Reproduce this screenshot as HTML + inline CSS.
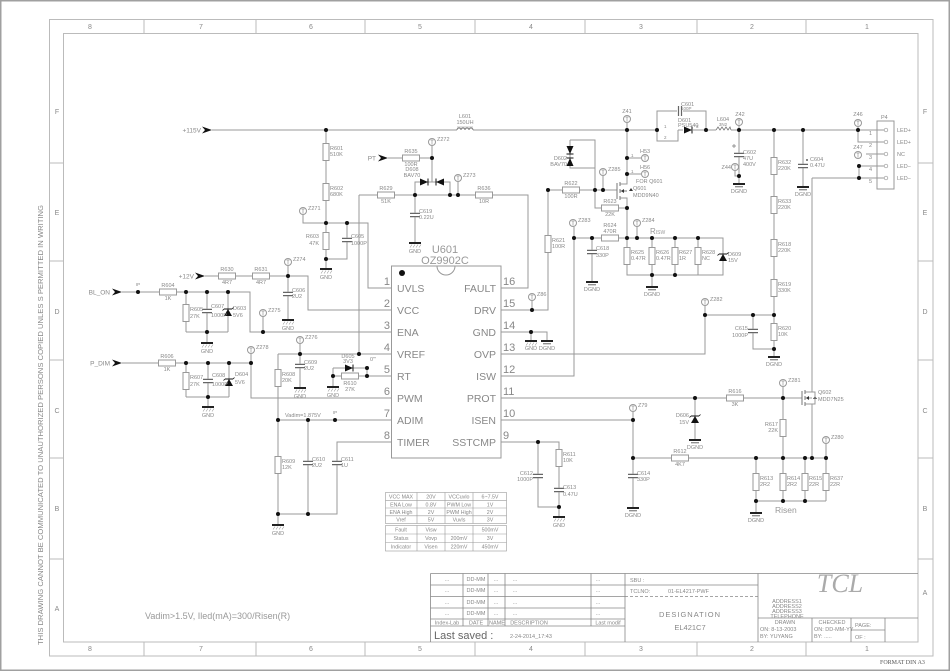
<!DOCTYPE html>
<html><head><meta charset="utf-8"><style>
html,body{margin:0;padding:0;background:#fff}
svg{display:block}
text{font-family:"Liberation Sans",sans-serif;fill:#888}
.s{font-size:5.5px}
.sm{font-size:4.5px}
.p{font-size:10.5px;fill:#8a8a8a}
.n{font-size:11px;fill:#999}
.r{font-size:7px;fill:#999}
.t{font-family:"Liberation Serif",serif;font-size:5.5px;fill:#555}
</style></head><body>
<svg width="950" height="672" viewBox="0 0 950 672" xmlns="http://www.w3.org/2000/svg">
<defs>
<g id="rv"><rect x="-3" y="-8.5" width="6" height="17" fill="#fff" stroke="#999"/></g>
<g id="rh"><rect x="-8.5" y="-3" width="17" height="6" fill="#fff" stroke="#999"/></g>
<g id="cv"><rect x="-5" y="-2.2" width="10" height="4.4" fill="#fff"/><path d="M-5,-1.6H5M-5,1.6H5" stroke="#666" stroke-width="1.2"/></g>
<g id="gnd"><path d="M-6,0H6" stroke="#222" stroke-width="2"/><path d="M-5,4.5l2,-3M-2,4.5l2,-3M1,4.5l2,-3M4,4.5l2,-3" stroke="#999" stroke-width="0.6"/></g>
<g id="dg"><path d="M-6,0H6" stroke="#222" stroke-width="2"/><path d="M-4,2.8H4" stroke="#555" stroke-width="0.9"/></g>
<g id="tp"><circle r="3.5" fill="#fff" stroke="#999"/><path d="M0,-2V2.5M-1.5,-2H1.5" stroke="#999" stroke-width="0.7"/></g>
<g id="j"><circle r="2" fill="#111"/></g>
<g id="arr"><path d="M0,-3.5L10,0L0,3.5L3,0Z" fill="#111"/></g>
<g id="zu"><path d="M-4,4H4L0,-3Z" fill="#111"/><path d="M-4,-3H4" stroke="#111"/><path d="M-4,-3l-1.5,1.5M4,-3l1.5,-1.5" stroke="#111" stroke-width="0.8"/></g>
<g id="dr"><path d="M-4,-3.5V3.5L4,0Z" fill="#111"/><path d="M4,-3.5V3.5" stroke="#111"/></g>
</defs>

<!-- page border and frame -->
<rect x="0.75" y="0.75" width="948.5" height="669.5" fill="none" stroke="#a0a0a0" stroke-width="1.5"/>
<rect x="49.5" y="19.5" width="883.5" height="636.5" fill="none" stroke="#bbb"/>
<rect x="63.5" y="33.5" width="854.5" height="608.5" fill="none" stroke="#bbb"/>
<path d="M144,19.5V33.5M256,19.5V33.5M365,19.5V33.5M475,19.5V33.5M585,19.5V33.5M697,19.5V33.5M806,19.5V33.5M144,642V656M256,642V656M365,642V656M475,642V656M585,642V656M697,642V656M806,642V656M49.5,163H63.5M49.5,261H63.5M49.5,360H63.5M49.5,458H63.5M49.5,559H63.5M918,163H933M918,261H933M918,360H933M918,458H933M918,559H933" stroke="#bbb"/>
<g class="r" text-anchor="middle">
<text x="90" y="29">8</text><text x="201" y="29">7</text><text x="311" y="29">6</text><text x="420" y="29">5</text><text x="531" y="29">4</text><text x="641" y="29">3</text><text x="752" y="29">2</text><text x="867" y="29">1</text>
<text x="90" y="651">8</text><text x="201" y="651">7</text><text x="311" y="651">6</text><text x="420" y="651">5</text><text x="531" y="651">4</text><text x="641" y="651">3</text><text x="752" y="651">2</text><text x="867" y="651">1</text>
<text x="57" y="114">F</text><text x="57" y="215">E</text><text x="57" y="314">D</text><text x="57" y="413">C</text><text x="57" y="511">B</text><text x="57" y="611">A</text>
<text x="925" y="114">F</text><text x="925" y="215">E</text><text x="925" y="314">D</text><text x="925" y="413">C</text><text x="925" y="511">B</text><text x="925" y="595">A</text>
</g>
<text transform="translate(43,645) rotate(-90)" font-size="7.5" fill="#888" textLength="440" lengthAdjust="spacingAndGlyphs">THIS DRAWING CANNOT BE COMMUNICATED TO UNAUTHORIZED PERSONS COPIED UNLES S PERMITTED IN WRITING</text>
<text x="880" y="664" class="t" font-size="6" style="font-size:6px">FORMAT DIN A3</text>

<!-- wires -->
<path fill="none" stroke="#999" d="
M212,130H457M473,130H657M678,130H683M693,130H716M731,130H858
M657,130V141H678V130M657,130V111H678M682,111H706V130
M326,130V269M303,215V223H368V288H391M347,223V259H326
M205,276H308V310H391M288,266V320
M122,292H250V332H391M186,292V332M207,292V343M228,292V332M186,332H228M263,317V332
M122,363H251V398H391M251,354V363M186,363V397M208,363V407M229,363V397M186,397H229
M278,354H391M359,195V354M300,344V388M278,354V525
M333,368H367V376M333,368V387M333,376H391
M278,420H391M308,420V514M391,442H337V514H278
M359,195H528V288H501M415,195V243M415,195V182H450V195M432,182V146M388,158H432M458,182V195
M501,310H548V190M532,301V310M548,190H617M603,176V190
M570,140H595V190M570,140V168H595
M627,123V184H620M627,158H641M627,174H641M620,198H627V238M627,208H595V190
M501,376H574V227M574,238H723V275H627V238M592,238V282M637,227V238M652,238V287M675,238V275M698,238V275
M501,354H705V306M705,315H774M753,315V349H774M774,130V357
M739,126V184M735,171V176H739M803,130V187
M858,127V142H885M858,130H885M866,154H885M859,166H885M812,178H885M859,166V178
M812,178V392H805M805,404H812V458M805,398H812
M501,398H802M783,387V458M695,398V440
M501,420H633V508M633,412V420M633,458H826M826,444V501M756,458V513M783,458V501M805,458V501M756,501H826
M501,442H559V517M538,442V507H559
M501,332H547V341M531,332V341
"/>

<!-- inductors -->
<path d="M457,130a2,2 0 0 1 4,0a2,2 0 0 1 4,0a2,2 0 0 1 4,0a2,2 0 0 1 4,0" fill="none" stroke="#777"/>
<path d="M457,127H473" stroke="#888" stroke-width="0.5"/>
<path d="M716,130l2,-3l2,3l2,-3l2,3l2,-3l2,3l2,-3l1,3" fill="none" stroke="#777" stroke-width="0.8"/>

<!-- resistors -->
<use href="#rv" x="326" y="152"/><use href="#rv" x="326" y="192"/><use href="#rv" x="326" y="241"/>
<use href="#rv" x="186" y="313"/><use href="#rv" x="186" y="381"/><use href="#rv" x="278" y="378"/><use href="#rv" x="278" y="465"/>
<use href="#rv" x="548" y="244"/><use href="#rv" x="627" y="256"/><use href="#rv" x="652" y="256"/><use href="#rv" x="675" y="256"/><use href="#rv" x="698" y="256"/>
<use href="#rv" x="774" y="166"/><use href="#rv" x="774" y="205"/><use href="#rv" x="774" y="248"/><use href="#rv" x="774" y="288"/><use href="#rv" x="774" y="332"/>
<use href="#rv" x="783" y="428"/><use href="#rv" x="756" y="482"/><use href="#rv" x="783" y="482"/><use href="#rv" x="805" y="482"/><use href="#rv" x="826" y="482"/><use href="#rv" x="559" y="458"/>
<use href="#rh" x="227" y="276"/><use href="#rh" x="261" y="276"/><use href="#rh" x="168" y="292"/><use href="#rh" x="167" y="363"/><use href="#rh" x="350" y="376"/>
<use href="#rh" x="386" y="195"/><use href="#rh" x="484" y="195"/><use href="#rh" x="411" y="158"/><use href="#rh" x="571" y="190"/><use href="#rh" x="610" y="208"/><use href="#rh" x="610" y="238"/>
<use href="#rh" x="735" y="398"/><use href="#rh" x="680" y="458"/>

<!-- capacitors -->
<use href="#cv" x="347" y="240"/><use href="#cv" x="288" y="294"/><use href="#cv" x="207" y="311"/><use href="#cv" x="208" y="381"/><use href="#cv" x="300" y="366"/>
<use href="#cv" x="308" y="463"/><use href="#cv" x="337" y="463"/><use href="#cv" x="415" y="215"/><use href="#cv" x="592" y="252"/><use href="#cv" x="739" y="155"/>
<use href="#cv" x="803" y="166"/><use href="#cv" x="753" y="331"/><use href="#cv" x="633" y="476"/><use href="#cv" x="538" y="476"/><use href="#cv" x="559" y="490"/>
<rect x="677" y="106" width="6" height="10" fill="#fff"/><path d="M678.5,106V116M681.5,106V116" stroke="#666" stroke-width="1.2"/>
<path d="M732,146h4M734,144v4" stroke="#777" stroke-width="0.7"/>
<circle cx="807" cy="160" r="0.9" fill="#333"/>

<!-- grounds -->
<use href="#gnd" x="326" y="269"/><use href="#gnd" x="288" y="320"/><use href="#gnd" x="207" y="343"/><use href="#gnd" x="208" y="407"/><use href="#gnd" x="300" y="388"/>
<use href="#gnd" x="333" y="387"/><use href="#gnd" x="278" y="525"/><use href="#gnd" x="415" y="243"/><use href="#gnd" x="531" y="341"/><use href="#gnd" x="559" y="517"/>
<use href="#dg" x="547" y="341"/><use href="#dg" x="592" y="282"/><use href="#dg" x="652" y="287"/><use href="#dg" x="739" y="184"/><use href="#dg" x="803" y="187"/>
<use href="#dg" x="774" y="357"/><use href="#dg" x="695" y="440"/><use href="#dg" x="633" y="508"/><use href="#dg" x="756" y="513"/>
<g class="s" text-anchor="middle">
<text x="326" y="279">GND</text><text x="288" y="330">GND</text><text x="207" y="353">GND</text><text x="208" y="417">GND</text><text x="300" y="398">GND</text>
<text x="333" y="397">GND</text><text x="278" y="535">GND</text><text x="415" y="253">GND</text><text x="531" y="350">GND</text><text x="559" y="527">GND</text>
<text x="547" y="350">DGND</text><text x="592" y="291">DGND</text><text x="652" y="296">DGND</text><text x="739" y="193">DGND</text><text x="803" y="196">DGND</text>
<text x="774" y="366">DGND</text><text x="695" y="449">DGND</text><text x="633" y="517">DGND</text><text x="756" y="522">DGND</text>
</g>

<!-- diodes -->
<use href="#zu" x="228" y="312"/><use href="#zu" x="229" y="382"/><use href="#zu" x="723" y="257"/><use href="#zu" x="695" y="419"/>
<use href="#dr" x="349" y="368"/><use href="#dr" x="424" y="182"/><use href="#dr" x="688" y="130"/>
<g transform="translate(440,182) scale(-1,1)"><use href="#dr"/></g>
<g transform="translate(570,150) rotate(90)"><use href="#dr"/></g>
<g transform="translate(570,162) rotate(-90)"><use href="#dr"/></g>

<!-- MOSFETs -->
<path d="M617,183V199M620,182V186M620,189V193M620,196V200" stroke="#777" fill="none"/>
<path d="M620,191H627" stroke="#777"/><path d="M621,191l3,-2v4z" fill="#333"/>
<path d="M631,188l-2,3h4z" fill="#333"/>
<path d="M802,391V405M805,390V394M805,396V400M805,402V406" stroke="#777" fill="none"/>
<path d="M806,398l3,-2v4z" fill="#333"/><path d="M815,396l-2,3h4z" fill="#333"/><path d="M812,392H815V404H812" stroke="#999" fill="none"/>

<!-- IC -->
<rect x="391.5" y="266" width="109.5" height="192" fill="#fff" stroke="#999"/>
<path d="M437,266a9,9 0 0 0 18,0" fill="none" stroke="#999"/>
<circle cx="402" cy="273" r="3" fill="#111"/>
<text x="445" y="253" text-anchor="middle" style="font-size:11px;fill:#999">U601</text>
<text x="445" y="264" text-anchor="middle" style="font-size:11px;fill:#999">OZ9902C</text>
<g class="p">
<text x="397" y="292">UVLS</text><text x="397" y="314">VCC</text><text x="397" y="336">ENA</text><text x="397" y="358">VREF</text>
<text x="397" y="380">RT</text><text x="397" y="402">PWM</text><text x="397" y="424">ADIM</text><text x="397" y="446">TIMER</text>
</g>
<g class="p" text-anchor="end">
<text x="496" y="292">FAULT</text><text x="496" y="314">DRV</text><text x="496" y="336">GND</text><text x="496" y="358">OVP</text>
<text x="496" y="380">ISW</text><text x="496" y="402">PROT</text><text x="496" y="424">ISEN</text><text x="496" y="446">SSTCMP</text>
</g>
<g class="n" text-anchor="end">
<text x="390" y="285">1</text><text x="390" y="307">2</text><text x="390" y="329">3</text><text x="390" y="351">4</text><text x="390" y="373">5</text><text x="390" y="395">6</text><text x="390" y="417">7</text><text x="390" y="439">8</text>
</g>
<g class="n">
<text x="503" y="285">16</text><text x="503" y="307">15</text><text x="503" y="329">14</text><text x="503" y="351">13</text><text x="503" y="373">12</text><text x="503" y="395">11</text><text x="503" y="417">10</text><text x="503" y="439">9</text>
</g>

<!-- P4 connector -->
<rect x="877" y="121" width="17" height="68" fill="none" stroke="#999"/>
<g fill="#fff" stroke="#999" stroke-width="0.7"><circle cx="886" cy="130" r="1.8"/><circle cx="886" cy="142" r="1.8"/><circle cx="886" cy="154" r="1.8"/><circle cx="886" cy="166" r="1.8"/><circle cx="886" cy="178" r="1.8"/></g>
<g class="s"><text x="869" y="135">1</text><text x="869" y="147">2</text><text x="869" y="159">3</text><text x="869" y="171">4</text><text x="869" y="183">5</text>
<text x="897" y="132">LED+</text><text x="897" y="144">LED+</text><text x="897" y="156">NC</text><text x="897" y="168">LED−</text><text x="897" y="180">LED−</text>
<text x="881" y="119">P4</text></g>

<!-- test points -->
<use href="#tp" x="303" y="211"/><use href="#tp" x="288" y="262"/><use href="#tp" x="263" y="313"/><use href="#tp" x="251" y="350"/><use href="#tp" x="300" y="340"/>
<use href="#tp" x="432" y="142"/><use href="#tp" x="458" y="178"/><use href="#tp" x="532" y="297"/><use href="#tp" x="603" y="172"/><use href="#tp" x="573" y="223"/>
<use href="#tp" x="637" y="223"/><use href="#tp" x="705" y="302"/><use href="#tp" x="627" y="119"/><use href="#tp" x="739" y="122"/><use href="#tp" x="735" y="167"/>
<use href="#tp" x="858" y="123"/><use href="#tp" x="858" y="155"/><use href="#tp" x="783" y="383"/><use href="#tp" x="633" y="408"/><use href="#tp" x="826" y="440"/>
<use href="#tp" x="645" y="158"/><use href="#tp" x="645" y="174"/>

<!-- junctions -->
<g fill="#111">
<circle cx="326" cy="130" r="2"/><circle cx="326" cy="223" r="2"/><circle cx="347" cy="223" r="2"/><circle cx="326" cy="259" r="2"/><circle cx="288" cy="276" r="2"/>
<circle cx="138" cy="292" r="2"/><circle cx="186" cy="292" r="2"/><circle cx="207" cy="292" r="2"/><circle cx="228" cy="292" r="2"/><circle cx="207" cy="332" r="2"/><circle cx="263" cy="332" r="2"/>
<circle cx="186" cy="363" r="2"/><circle cx="208" cy="363" r="2"/><circle cx="229" cy="363" r="2"/><circle cx="251" cy="363" r="2"/><circle cx="208" cy="397" r="2"/>
<circle cx="300" cy="354" r="2"/><circle cx="359" cy="354" r="2"/><circle cx="367" cy="368" r="2"/><circle cx="367" cy="376" r="2"/><circle cx="333" cy="376" r="2"/>
<circle cx="278" cy="420" r="2"/><circle cx="308" cy="420" r="2"/><circle cx="335" cy="420" r="2"/><circle cx="308" cy="514" r="2"/><circle cx="278" cy="514" r="2"/>
<circle cx="415" cy="195" r="2"/><circle cx="450" cy="195" r="2"/><circle cx="458" cy="195" r="2"/><circle cx="432" cy="158" r="2"/>
<circle cx="532" cy="310" r="2"/><circle cx="531" cy="332" r="2"/><circle cx="548" cy="190" r="2"/><circle cx="595" cy="190" r="2"/><circle cx="603" cy="190" r="2"/>
<circle cx="627" cy="130" r="2"/><circle cx="627" cy="158" r="2"/><circle cx="627" cy="174" r="2"/><circle cx="627" cy="208" r="2"/>
<circle cx="574" cy="238" r="2"/><circle cx="592" cy="238" r="2"/><circle cx="627" cy="238" r="2"/><circle cx="637" cy="238" r="2"/><circle cx="652" cy="238" r="2"/><circle cx="675" cy="238" r="2"/><circle cx="698" cy="238" r="2"/>
<circle cx="652" cy="275" r="2"/><circle cx="675" cy="275" r="2"/><circle cx="657" cy="130" r="2"/><circle cx="706" cy="130" r="2"/><circle cx="739" cy="130" r="2"/><circle cx="739" cy="176" r="2"/>
<circle cx="774" cy="130" r="2"/><circle cx="803" cy="130" r="2"/><circle cx="858" cy="130" r="2"/><circle cx="859" cy="166" r="2"/><circle cx="859" cy="178" r="2"/>
<circle cx="705" cy="315" r="2"/><circle cx="753" cy="315" r="2"/><circle cx="774" cy="315" r="2"/><circle cx="774" cy="349" r="2"/>
<circle cx="695" cy="398" r="2"/><circle cx="783" cy="398" r="2"/><circle cx="633" cy="420" r="2"/><circle cx="633" cy="458" r="2"/>
<circle cx="756" cy="458" r="2"/><circle cx="783" cy="458" r="2"/><circle cx="805" cy="458" r="2"/><circle cx="812" cy="458" r="2"/><circle cx="826" cy="458" r="2"/>
<circle cx="756" cy="501" r="2"/><circle cx="783" cy="501" r="2"/><circle cx="805" cy="501" r="2"/><circle cx="538" cy="442" r="2"/><circle cx="559" cy="507" r="2"/>
</g>

<!-- input arrows -->
<use href="#arr" x="202" y="130"/><use href="#arr" x="195" y="276"/><use href="#arr" x="112" y="292"/><use href="#arr" x="112" y="363"/><use href="#arr" x="378" y="158"/>
<g style="font-size:6.5px" text-anchor="end">
<text x="201" y="132.5">+115V</text><text x="194" y="278.5">+12V</text><text x="110" y="294.5">BL_ON</text><text x="110" y="365.5">P_DIM</text><text x="376" y="160.5">PT</text>
</g>

<!-- component labels -->
<g class="s">
<text x="330" y="150">R601</text><text x="330" y="156">510K</text>
<text x="330" y="190">R602</text><text x="330" y="196">680K</text>
<text x="351" y="238">C605</text><text x="351" y="245">1000P</text>
<text x="292" y="292">C606</text><text x="292" y="298">2U2</text>
<text x="190" y="311">R605</text><text x="190" y="318">27K</text>
<text x="211" y="308">C607</text><text x="211" y="317">1000P</text>
<text x="233" y="310">D603</text><text x="233" y="317">5V6</text>
<text x="190" y="379">R607</text><text x="190" y="386">27K</text>
<text x="212" y="377">C608</text><text x="212" y="386">1000P</text>
<text x="235" y="376">D604</text><text x="235" y="384">5V6</text>
<text x="304" y="364">C609</text><text x="304" y="370">2U2</text>
<text x="282" y="376">R608</text><text x="282" y="382">20K</text>
<text x="282" y="463">R609</text><text x="282" y="469">12K</text>
<text x="312" y="461">C610</text><text x="312" y="467">2U2</text>
<text x="341" y="461">C611</text><text x="341" y="467">1U</text>
<text x="285" y="417">Vadim=1.875V</text>
<text x="370" y="361">0'''</text>
<text x="419" y="213">C619</text><text x="419" y="219">0.22U</text>
<text x="552" y="242">R621</text><text x="552" y="248">100R</text>
<text x="596" y="250">C618</text><text x="596" y="257">330P</text>
<text x="631" y="254">R625</text><text x="631" y="260">0.47R</text>
<text x="656" y="254">R626</text><text x="656" y="260">0.47R</text>
<text x="679" y="254">R627</text><text x="679" y="260">1R</text>
<text x="702" y="254">R628</text><text x="702" y="260">NC</text>
<text x="728" y="256">D609</text><text x="728" y="262">15V</text>
<text x="633" y="190">Q601</text><text x="633" y="197">MDD9N40</text>
<text x="640" y="153">H53</text><text x="640" y="169">H56</text><text x="636" y="183">FOR Q601</text>
<text x="743" y="154">C602</text><text x="743" y="160">47U</text><text x="743" y="166">400V</text>
<text x="810" y="161">C604</text><text x="810" y="167">0.47U</text>
<text x="778" y="164">R632</text><text x="778" y="170">220K</text>
<text x="778" y="203">R633</text><text x="778" y="209">220K</text>
<text x="778" y="246">R618</text><text x="778" y="252">220K</text>
<text x="778" y="286">R619</text><text x="778" y="292">330K</text>
<text x="778" y="330">R620</text><text x="778" y="336">10K</text>
<text x="818" y="394">Q602</text><text x="818" y="401">MDD7N25</text>
<text x="563" y="456">R611</text><text x="563" y="462">10K</text>
<text x="563" y="489">C613</text><text x="563" y="496">0.47U</text>
<text x="637" y="475">C614</text><text x="637" y="481">330P</text>
<text x="760" y="480">R613</text><text x="760" y="486">2R2</text>
<text x="787" y="480">R614</text><text x="787" y="486">2R2</text>
<text x="809" y="480">R615</text><text x="809" y="486">22R</text>
<text x="830" y="480">R637</text><text x="830" y="486">22R</text>
<text x="308" y="210">Z271</text><text x="293" y="261">Z274</text><text x="268" y="312">Z275</text><text x="256" y="349">Z278</text><text x="305" y="339">Z276</text>
<text x="437" y="141">Z272</text><text x="463" y="177">Z273</text><text x="537" y="296">Z86</text><text x="608" y="171">Z285</text><text x="578" y="222">Z283</text>
<text x="642" y="222">Z284</text><text x="710" y="301">Z282</text><text x="788" y="382">Z281</text><text x="638" y="407">Z79</text><text x="831" y="439">Z280</text>
<text x="681" y="106">C601</text><text x="681" y="110" class="sm">100P</text>
<text x="678" y="122">D601</text><text x="678" y="127">PSU540</text>
<text x="664" y="128" class="sm">1</text><text x="664" y="139" class="sm">2</text><text x="696" y="128" class="sm">3</text>
<text x="631" y="157" class="sm">1</text><text x="631" y="173" class="sm">1</text>
</g>
<g class="s" text-anchor="middle">
<text x="227" y="271">R630</text><text x="227" y="284">4R7</text>
<text x="261" y="271">R631</text><text x="261" y="284">4R7</text>
<text x="168" y="287">R604</text><text x="168" y="300">1K</text>
<text x="167" y="358">R606</text><text x="167" y="371">1K</text>
<text x="348" y="358">D605</text><text x="348" y="363">3V3</text>
<text x="350" y="385">R610</text><text x="350" y="391">27K</text>
<text x="386" y="190">R629</text><text x="386" y="203">51K</text>
<text x="484" y="190">R636</text><text x="484" y="203">10R</text>
<text x="411" y="153">R635</text><text x="411" y="166">100R</text>
<text x="412" y="171">D608</text><text x="412" y="177">BAV70</text>
<text x="465" y="118">L601</text><text x="465" y="124">150UH</text>
<text x="571" y="185">R622</text><text x="571" y="198">100R</text>
<text x="610" y="203">R623</text><text x="610" y="216">22K</text>
<text x="610" y="227">R624</text><text x="610" y="233">470R</text>
<text x="735" y="393">R616</text><text x="735" y="406">3K</text>
<text x="680" y="453">R612</text><text x="680" y="466">4K7</text>
<text x="627" y="113">Z41</text><text x="740" y="116">Z42</text><text x="858" y="116">Z46</text><text x="858" y="149">Z47</text>
<text x="723" y="121">L604</text><text x="723" y="126" class="sm">3N2</text>
<text x="138" y="286" class="sm">IP</text><text x="335" y="414" class="sm">IP</text>
</g>
<g class="s" text-anchor="end">
<text x="319" y="238">R603</text><text x="319" y="245">47K</text>
<text x="567" y="160">D602</text><text x="567" y="166">BAV70</text>
<text x="731" y="169">Z44</text>
<text x="748" y="330">C615</text><text x="748" y="337">1000P</text>
<text x="689" y="417">D606</text><text x="689" y="424">15V</text>
<text x="778" y="426">R617</text><text x="778" y="432">22K</text>
<text x="533" y="475">C612</text><text x="533" y="481">1000P</text>
</g>
<text x="650" y="234" style="font-size:8px;fill:#999">R<tspan style="font-size:5px">ISW</tspan></text>
<text x="775" y="513" style="font-size:8.5px;fill:#999">Risen</text>

<!-- spec tables -->
<g fill="none" stroke="#999" stroke-width="0.6">
<rect x="385.5" y="492.5" width="121" height="31"/>
<path d="M385.5,500.3H506.5M385.5,508H506.5M385.5,515.8H506.5M417,492.5V523.5M445,492.5V523.5M473,492.5V523.5"/>
<rect x="385.5" y="525.5" width="121" height="25.5"/>
<path d="M385.5,534H506.5M385.5,542.5H506.5M417,525.5V551M445,525.5V551M473,525.5V551"/>
</g>
<g style="font-size:5.3px;fill:#777" text-anchor="middle">
<text x="401" y="498.5">VCC MAX</text><text x="431" y="498.5">20V</text><text x="459" y="498.5">VCCuvlo</text><text x="490" y="498.5">6~7.5V</text>
<text x="401" y="506.3">ENA Low</text><text x="431" y="506.3">0.8V</text><text x="459" y="506.3">PWM Low</text><text x="490" y="506.3">1V</text>
<text x="401" y="514">ENA High</text><text x="431" y="514">2V</text><text x="459" y="514">PWM High</text><text x="490" y="514">2V</text>
<text x="401" y="521.7">Vref</text><text x="431" y="521.7">5V</text><text x="459" y="521.7">Vuvls</text><text x="490" y="521.7">3V</text>
<text x="401" y="531.5">Fault</text><text x="431" y="531.5">Visw</text><text x="490" y="531.5">500mV</text>
<text x="401" y="540">Status</text><text x="431" y="540">Vovp</text><text x="459" y="540">200mV</text><text x="490" y="540">3V</text>
<text x="401" y="548.5">Indicator</text><text x="431" y="548.5">Visen</text><text x="459" y="548.5">220mV</text><text x="490" y="548.5">450mV</text>
</g>

<text x="145" y="619" style="font-size:9px;fill:#999">Vadim&gt;1.5V, Iled(mA)=300/Risen(R)</text>

<!-- title block -->
<g fill="none" stroke="#888" stroke-width="0.8">
<path d="M430.5,573.5H918M430.5,573.5V642M625,573.5V642M758,573.5V642"/>
<path d="M430.5,585H625M430.5,596.5H625M430.5,608H625M430.5,619H625M430.5,626H625"/>
<path d="M463,573.5V626M488,573.5V626M505,573.5V626M591,573.5V626"/>
<path d="M625,585H758"/>
<path d="M625,596.5H758" stroke-dasharray="3,2"/>
<path d="M758,618H918M812,618V642M851,618V642M885,618V642M851,630H885"/>
</g>
<g class="t" text-anchor="middle">
<text x="447" y="581">...</text><text x="476" y="581">DD-MM</text><text x="496" y="581">...</text><text x="515" y="581">...</text><text x="598" y="581">...</text>
<text x="447" y="592">...</text><text x="476" y="592">DD-MM</text><text x="496" y="592">...</text><text x="515" y="592">...</text><text x="598" y="592">...</text>
<text x="447" y="604">...</text><text x="476" y="604">DD-MM</text><text x="496" y="604">...</text><text x="515" y="604">...</text><text x="598" y="604">...</text>
<text x="447" y="615">...</text><text x="476" y="615">DD-MM</text><text x="496" y="615">...</text><text x="515" y="615">...</text><text x="598" y="615">...</text>
<text x="447" y="624.5">Index-Lab</text><text x="476" y="624.5">DATE</text><text x="497" y="624.5">NAME</text><text x="529" y="624.5">DESCRIPTION</text><text x="608" y="624.5">Last modif</text>
<text x="690" y="617" style="font-size:7.5px;letter-spacing:1px">DESIGNATION</text>
<text x="690" y="630" style="font-size:7.5px">EL421C7</text>
<text x="787" y="603">ADDRESS1</text><text x="787" y="608">ADDRESS2</text><text x="787" y="613">ADDRESS3</text><text x="787" y="618">TELEPHONE</text>
<text x="785" y="624">DRAWN</text><text x="832" y="624">CHECKED</text>
</g>
<g class="t">
<text x="434" y="639" style="font-size:11px;fill:#666">Last saved :</text>
<text x="510" y="638">2-24-2014_17:43</text>
<text x="630" y="582">SBU :</text>
<text x="630" y="593">TCLNO:</text><text x="668" y="593">01-EL4217-PWF</text>
<text x="760" y="631">ON: 8-13-2003</text><text x="760" y="638">BY: YUYANG</text>
<text x="814" y="631">ON: DD-MM-YY</text><text x="814" y="638">BY: .....</text>
<text x="855" y="627">PAGE:</text><text x="855" y="639">OF :</text>
</g>
<text x="840" y="592" text-anchor="middle" style="font-family:'Liberation Serif',serif;font-style:italic;font-size:26px;fill:#aaa">TCL</text>
</svg>
</body></html>
